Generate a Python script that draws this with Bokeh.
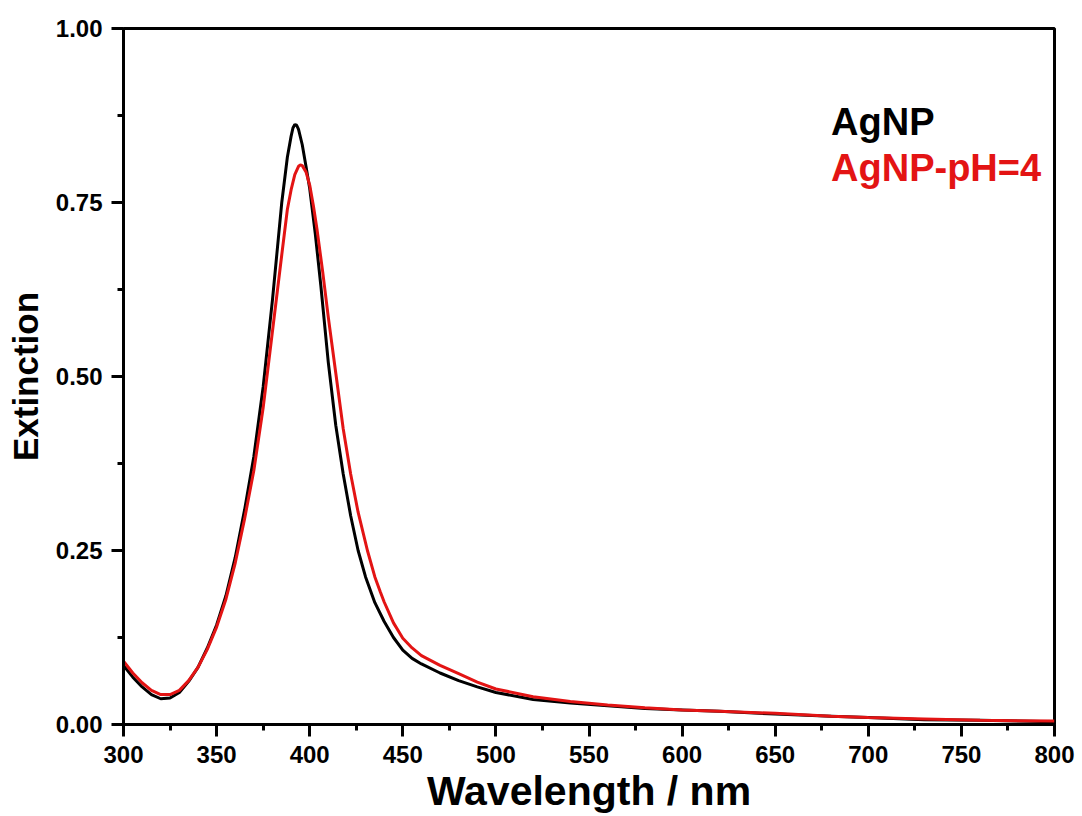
from bokeh.plotting import figure
from bokeh.models import (Range1d, SingleIntervalTicker, FixedTicker, NumeralTickFormatter, Label)
from bokeh.embed import file_html
from bokeh.resources import INLINE

# ---- data ----
wl_agnp = [300, 305, 310, 315, 320, 325, 330, 335, 340, 345, 350, 355, 360, 365, 370,
           375, 380, 385, 388, 390, 391, 392, 393, 394, 396, 398, 400, 403, 406, 410,
           414, 418, 422, 426, 430, 435, 440, 445, 450, 455, 460, 470, 480, 490, 500,
           520, 540, 560, 580, 600, 620, 650, 680, 700, 730, 760, 800]
ext_agnp = [0.085, 0.068, 0.054, 0.043, 0.037, 0.038, 0.046, 0.062, 0.082, 0.110, 0.143,
            0.185, 0.240, 0.308, 0.385, 0.485, 0.610, 0.750, 0.815, 0.845, 0.857, 0.862,
            0.861, 0.855, 0.833, 0.802, 0.770, 0.705, 0.630, 0.520, 0.430, 0.360, 0.300,
            0.250, 0.212, 0.175, 0.148, 0.125, 0.107, 0.095, 0.087, 0.074, 0.063, 0.054,
            0.046, 0.036, 0.031, 0.027, 0.023, 0.021, 0.019, 0.015, 0.012, 0.010, 0.007,
            0.006, 0.004]

wl_ph4 = [300, 305, 310, 315, 320, 325, 330, 335, 340, 345, 350, 355, 360, 365, 370,
          375, 380, 385, 388, 390, 392, 394, 395, 396, 398, 400, 402, 404, 407, 410,
          414, 418, 422, 426, 431, 435, 438, 440, 445, 450, 455, 460, 470, 480, 490,
          500, 520, 540, 560, 580, 600, 620, 650, 680, 700, 730, 760, 800]
ext_ph4 = [0.091, 0.074, 0.060, 0.049, 0.043, 0.043, 0.049, 0.063, 0.082, 0.108, 0.140,
           0.180, 0.232, 0.295, 0.365, 0.455, 0.565, 0.675, 0.740, 0.768, 0.790, 0.802,
           0.804, 0.803, 0.794, 0.775, 0.745, 0.710, 0.650, 0.585, 0.505, 0.425, 0.360,
           0.305, 0.250, 0.212, 0.190, 0.176, 0.146, 0.124, 0.110, 0.099, 0.085, 0.073,
           0.061, 0.051, 0.040, 0.033, 0.028, 0.024, 0.021, 0.019, 0.016, 0.012, 0.010,
           0.008, 0.006, 0.005]

series_names = ["AgNP", "AgNP-pH=4"]
series_colors = ["#000000", "#e31414"]

y_ticks = [0.0, 0.25, 0.5, 0.75, 1.0]
y_minor = [0.125, 0.375, 0.625, 0.875]

FONT = "Liberation Sans"

p = figure(frame_width=931, frame_height=696, output_backend="svg", toolbar_location=None,
           x_range=Range1d(300, 800), y_range=Range1d(0, 1.0),
           min_border_left=123, min_border_top=28, min_border_right=24, min_border_bottom=10)
p.background_fill_color = "white"
p.border_fill_color = "white"
p.outline_line_color = "black"
p.outline_line_width = 3
p.xgrid.visible = False
p.ygrid.visible = False

p.line(wl_agnp, ext_agnp, line_color=series_colors[0], line_width=3)
p.line(wl_ph4, ext_ph4, line_color=series_colors[1], line_width=3)

p.xaxis.ticker = SingleIntervalTicker(interval=50, num_minor_ticks=2)
p.yaxis.ticker = FixedTicker(ticks=y_ticks, minor_ticks=y_minor)
p.yaxis.formatter = NumeralTickFormatter(format="0.00")

for ax in (p.xaxis[0], p.yaxis[0]):
    ax.axis_line_width = 3
    ax.axis_line_color = "black"
    ax.major_tick_line_width = 3
    ax.major_tick_in = 0
    ax.major_tick_out = 12
    ax.minor_tick_line_width = 3
    ax.minor_tick_in = 0
    ax.minor_tick_out = 6
    ax.major_label_text_font = FONT
    ax.major_label_text_font_style = "bold"
    ax.major_label_text_font_size = "24px"
    ax.major_label_text_color = "black"
    ax.axis_label_text_font = FONT
    ax.axis_label_text_font_style = "bold"
    ax.axis_label_text_color = "black"
    ax.major_label_standoff = 9

p.xaxis.axis_label = "Wavelength / nm"
p.xaxis.axis_label_text_font_size = "41px"
p.xaxis.axis_label_standoff = 2
p.yaxis.axis_label = "Extinction"
p.yaxis.axis_label_text_font_size = "35px"
p.yaxis.axis_label_standoff = 8

legend_y = [0.866, 0.799]
for name, col, yy in zip(series_names, series_colors, legend_y):
    p.add_layout(Label(x=680, y=yy, text=name, text_color=col, text_font=FONT,
                       text_font_style="bold", text_font_size="38px",
                       text_baseline="alphabetic", text_align="left"))

open("out.html", "w").write(file_html(p, INLINE))
